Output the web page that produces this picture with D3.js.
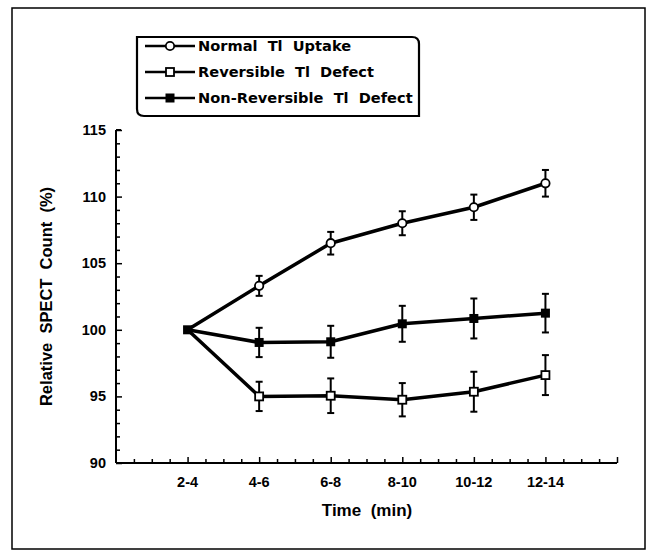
<!DOCTYPE html>
<html><head><meta charset="utf-8">
<script src="https://cdn.jsdelivr.net/npm/d3@7"></script>
<style>body{margin:0;background:#fff}svg{display:block}text{font-family:"Liberation Sans",Arial,sans-serif;font-weight:bold;fill:#000}</style>
</head><body><svg id="c" width="647" height="550"></svg>
<script>
const categories = ["2-4","4-6","6-8","8-10","10-12","12-14"];
const normalValues = [100, 103.3, 106.5, 108.0, 109.2, 111.0];
const normalErrors = [0, 0.75, 0.85, 0.9, 0.95, 1.0];
const reversibleValues = [100, 95.0, 95.05, 94.75, 95.35, 96.6];
const reversibleErrors = [0, 1.1, 1.3, 1.25, 1.5, 1.5];
const nonReversibleValues = [100, 99.05, 99.1, 100.45, 100.85, 101.25];
const nonReversibleErrors = [0, 1.1, 1.2, 1.35, 1.5, 1.45];
const yTicks = [90, 95, 100, 105, 110, 115];
const seriesNames = ["Normal  Tl  Uptake", "Reversible  Tl  Defect", "Non-Reversible  Tl  Defect"];

const svg = d3.select("#c");
const x = d3.scaleLinear().domain([0, 7]).range([116, 617]);
const y = d3.scaleLinear().domain([90, 115]).range([463, 130]);

// outer frame
svg.append("rect").attr("x",12).attr("y",8).attr("width",633).attr("height",541)
  .attr("fill","none").attr("stroke","#000").attr("stroke-width",1.5);

// axes
const yAxis = svg.append("g").attr("transform","translate(116,0)")
  .call(d3.axisRight(y).tickValues(yTicks).tickSize(6).tickFormat(""));
const yMinor = svg.append("g").attr("transform","translate(116,0)")
  .call(d3.axisRight(y).tickValues(d3.range(90,115.01,1).filter(v=>v%5!==0)).tickSize(4).tickFormat(""));
[yAxis,yMinor].forEach(g=>{g.select(".domain").remove();g.selectAll("line").attr("stroke","#000").attr("stroke-width",1.5);});
svg.append("line").attr("x1",116).attr("x2",116).attr("y1",y(115)).attr("y2",y(90)).attr("stroke","#000").attr("stroke-width",2);
svg.append("line").attr("x1",116).attr("x2",121).attr("y1",y(115)).attr("y2",y(115)).attr("stroke","#000").attr("stroke-width",2);
svg.selectAll(".ylab").data(yTicks).join("text").attr("class","ylab")
  .attr("x",106).attr("y",d=>y(d)).attr("dy","0.35em").attr("text-anchor","end")
  .attr("font-size",14.5).text(d=>d);

const xMajor = svg.append("g").attr("transform",`translate(0,${y(90)})`)
  .call(d3.axisTop(x).tickValues(d3.range(1,8)).tickSize(6).tickFormat(""));
const xMinor = svg.append("g").attr("transform",`translate(0,${y(90)})`)
  .call(d3.axisTop(x).tickValues(d3.range(0.25,7,0.25).filter(v=>v%1!==0)).tickSize(4).tickFormat(""));
[xMajor,xMinor].forEach(g=>{g.select(".domain").remove();g.selectAll("line").attr("stroke","#000").attr("stroke-width",1.5);});
svg.append("line").attr("x1",116).attr("x2",617).attr("y1",y(90)).attr("y2",y(90)).attr("stroke","#000").attr("stroke-width",2);
svg.selectAll(".xlab").data(categories).join("text").attr("class","xlab")
  .attr("x",(d,i)=>x(i+1)).attr("y",y(90)+24).attr("text-anchor","middle")
  .attr("font-size",14.5).text(d=>d);

svg.append("text").attr("x",367).attr("y",516).attr("text-anchor","middle").attr("font-size",17)
  .style("white-space","pre").text("Time  (min)");
svg.append("text").attr("transform",`translate(52,${y(102.5)}) rotate(-90)`).attr("text-anchor","middle")
  .attr("font-size",16.5).style("white-space","pre").text("Relative  SPECT  Count  (%)");

const series = [
  {vals: normalValues, errs: normalErrors, type: "circle"},
  {vals: reversibleValues, errs: reversibleErrors, type: "open"},
  {vals: nonReversibleValues, errs: nonReversibleErrors, type: "filled"}
];
const line = d3.line().x((d,i)=>x(i+1)).y(d=>y(d));

// error bars
series.forEach(s=>{
  s.vals.forEach((v,i)=>{
    if(!s.errs[i]) return;
    const g = svg.append("g").attr("stroke","#000").attr("stroke-width",2);
    const cx = x(i+1);
    g.append("line").attr("x1",cx).attr("x2",cx).attr("y1",y(v+s.errs[i])).attr("y2",y(v-s.errs[i]));
    g.append("line").attr("x1",cx-3.5).attr("x2",cx+3.5).attr("y1",y(v+s.errs[i])).attr("y2",y(v+s.errs[i]));
    g.append("line").attr("x1",cx-3.5).attr("x2",cx+3.5).attr("y1",y(v-s.errs[i])).attr("y2",y(v-s.errs[i]));
  });
});
series.forEach(s=>{
  svg.append("path").datum(s.vals).attr("d",line).attr("fill","none").attr("stroke","#000").attr("stroke-width",3.5).attr("stroke-linejoin","round");
});
function marker(g, cx, cy, type){
  if(type==="circle") g.append("circle").attr("cx",cx).attr("cy",cy).attr("r",4.2).attr("fill","#fff").attr("stroke","#000").attr("stroke-width",1.8);
  else if(type==="open") g.append("rect").attr("x",cx-4).attr("y",cy-4).attr("width",8).attr("height",8).attr("fill","#fff").attr("stroke","#000").attr("stroke-width",1.8);
  else g.append("rect").attr("x",cx-4.5).attr("y",cy-4.5).attr("width",9).attr("height",9).attr("fill","#000");
}
series.forEach(s=>{
  s.vals.forEach((v,i)=>{ if(i>0) marker(svg, x(i+1), y(v), s.type); });
});
marker(svg, x(1), y(100), "filled");

// legend
svg.append("path").attr("d","M137,37 H412 Q419,37 419,44 V116 H144 Q137,116 137,109 Z")
  .attr("fill","#fff").attr("stroke","#000").attr("stroke-width",2.2);
const legY = [46, 72, 98];
series.forEach((s,i)=>{
  svg.append("line").attr("x1",145).attr("x2",195).attr("y1",legY[i]).attr("y2",legY[i]).attr("stroke","#000").attr("stroke-width",2.5);
  marker(svg, 170, legY[i], s.type);
  svg.append("text").attr("x",198).attr("y",legY[i]).attr("dy","0.36em").attr("font-size",14.6)
    .style("font-family","'DejaVu Sans',sans-serif").style("white-space","pre").text(seriesNames[i]);
});
</script></body></html>
